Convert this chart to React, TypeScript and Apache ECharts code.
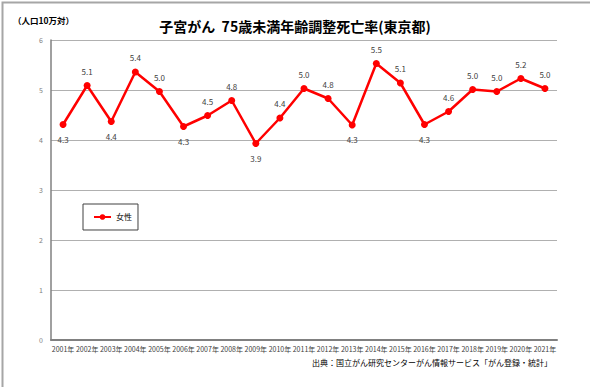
import React, { useEffect, useRef } from "react";
import * as echarts from "echarts";

const years = ["2001年","2002年","2003年","2004年","2005年","2006年","2007年","2008年","2009年","2010年","2011年","2012年","2013年","2014年","2015年","2016年","2017年","2018年","2019年","2020年","2021年"];
const femaleRates = [4.31,5.09,4.37,5.36,4.97,4.27,4.49,4.79,3.93,4.44,5.03,4.83,4.30,5.53,5.14,4.31,4.57,5.01,4.97,5.23,5.03];
const labelBelow = [true,false,true,false,false,true,false,false,true,false,false,false,true,false,false,true,false,false,false,false,false];
const yTicks = [0,1,2,3,4,5,6];

const titleText = "子宮がん  75歳未満年齢調整死亡率(東京都)";
const unitText = "（人口10万対）";
const sourceText = "出典：国立がん研究センターがん情報サービス「がん登録・統計」";
const seriesName = "女性";

const FONT = "'Noto Sans CJK JP', 'Noto Sans', sans-serif";

export default function App() {
  const ref = useRef<HTMLDivElement>(null);
  useEffect(() => {
    if (!ref.current) return;
    const chart = echarts.init(ref.current, null, { renderer: "svg" });
    chart.setOption({
      animation: false,
      backgroundColor: "#ffffff",
      textStyle: { fontFamily: FONT },
      title: {
        text: titleText,
        left: "center",
        top: 14,
        textStyle: { fontSize: 14, fontWeight: "bold", color: "#000", fontFamily: FONT },
      },
      legend: {
        left: 83,
        top: 204,
        padding: [9, 6, 9, 10],
        borderColor: "#404040",
        borderWidth: 1,
        itemWidth: 17,
        itemHeight: 7,
        itemGap: 4,
        textStyle: { fontSize: 8, color: "#000", fontFamily: FONT },
        data: [seriesName],
      },
      grid: { left: 51, right: 33, top: 40, bottom: 47, containLabel: false },
      xAxis: {
        type: "category",
        data: years,
        boundaryGap: true,
        axisLine: { lineStyle: { color: "#808080", width: 2 } },
        axisTick: { show: false },
        axisLabel: { interval: 0, fontSize: 7, color: "#404040", margin: 5, fontFamily: FONT },
      },
      yAxis: {
        type: "value",
        min: yTicks[0],
        max: yTicks[yTicks.length - 1],
        interval: 1,
        axisLine: { show: true, lineStyle: { color: "#808080", width: 1.5 } },
        axisTick: { show: false },
        axisLabel: { fontSize: 7, color: "#808080", margin: 8, fontFamily: FONT },
        splitLine: { lineStyle: { color: "#b0b0b0", width: 1 } },
      },
      series: [
        {
          name: seriesName,
          type: "line",
          data: femaleRates.map((v, i) => ({
            value: v,
            label: { position: labelBelow[i] ? "bottom" : "top" },
          })),
          symbol: "circle",
          symbolSize: 7,
          itemStyle: { color: "#ff0000" },
          lineStyle: { color: "#ff0000", width: 2.5 },
          label: {
            show: true,
            fontSize: 8,
            color: "#404040",
            distance: 7,
            fontFamily: FONT,
            formatter: (p: any) => Number(p.value).toFixed(1),
          },
        },
      ],
      graphic: [
        {
          type: "rect",
          left: 0,
          top: 0,
          shape: { x: 0, y: 0, width: 589, height: 386 },
          style: { fill: "none", stroke: "#a6a6a6", lineWidth: 2 },
          silent: true,
        },
        {
          type: "text",
          left: 13,
          top: 16,
          style: { text: unitText, fontSize: 8.5, fontWeight: "bold", fill: "#000", fontFamily: FONT },
        },
        {
          type: "text",
          right: 38,
          top: 358,
          style: { text: sourceText, fontSize: 8, fill: "#000", fontFamily: FONT },
        },
      ],
    });
    return () => chart.dispose();
  }, []);
  return (
    <div
      ref={ref}
      style={{ position: "fixed", left: 0, top: 0, width: 590, height: 387 }}
    />
  );
}
